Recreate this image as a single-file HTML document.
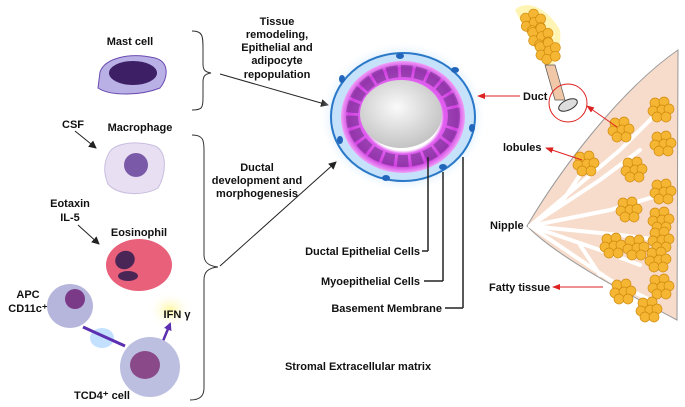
<!DOCTYPE html>
<html><head><meta charset="utf-8"><style>
html,body{margin:0;padding:0;background:#fff}
svg{display:block}
text{font-family:"Liberation Sans",Arial,sans-serif;font-weight:bold;font-size:11px;fill:#111}
</style></head><body>
<svg width="685" height="407" viewBox="0 0 685 407" xmlns="http://www.w3.org/2000/svg">
<defs>
<radialGradient id="glow" cx="50%" cy="50%" r="50%">
<stop offset="75%" stop-color="#9fd0ff" stop-opacity="0.7"/>
<stop offset="100%" stop-color="#ffffff" stop-opacity="0"/>
</radialGradient>
<radialGradient id="pink" cx="50%" cy="50%" r="50%">
<stop offset="60%" stop-color="#ffffff"/>
<stop offset="66%" stop-color="#e060f0"/>
<stop offset="88%" stop-color="#d040e0"/>
<stop offset="100%" stop-color="#f0a0f8"/>
</radialGradient>
<radialGradient id="lumen" cx="45%" cy="40%" r="60%">
<stop offset="0%" stop-color="#fafafa"/><stop offset="100%" stop-color="#c4c4c4"/>
</radialGradient>
<radialGradient id="yglow"><stop offset="0%" stop-color="#fff7a0"/><stop offset="100%" stop-color="#fff" stop-opacity="0"/></radialGradient>
<marker id="ah" markerUnits="userSpaceOnUse" markerWidth="8" markerHeight="8" refX="7" refY="4" orient="auto"><path d="M0,0 L8,4 L0,8 z" fill="#222"/></marker>
<marker id="rh" markerUnits="userSpaceOnUse" markerWidth="8" markerHeight="8" refX="7" refY="4" orient="auto"><path d="M0,1 L8,4 L0,7 z" fill="#d22"/></marker>
<marker id="ph" markerUnits="userSpaceOnUse" markerWidth="8" markerHeight="8" refX="6" refY="4" orient="auto"><path d="M0,0 L8,4 L0,8 z" fill="#5b2fb0"/></marker>
<g id="lob" fill="#f5b733" stroke="#d08a10" stroke-width="0.7">
<circle cx="-5" cy="-5" r="5"/><circle cx="4" cy="-6" r="5"/><circle cx="-7" cy="3" r="5"/><circle cx="2" cy="2" r="5"/><circle cx="9" cy="1" r="5"/><circle cx="-3" cy="9" r="5"/><circle cx="6" cy="9" r="5"/></g>
</defs>

<!-- left cells -->
<text x="130" y="45" text-anchor="middle">Mast cell</text>
<path d="M100,72 C105,58 130,52 155,58 C170,62 168,78 160,88 C140,96 110,96 98,88 Z" fill="#b9b0e6" stroke="#6a4ab0"/>
<ellipse cx="133" cy="73" rx="24" ry="12" fill="#3d1f66"/>
<text x="62" y="128" font-size="13">CSF</text>
<line x1="75" y1="131" x2="96" y2="148" stroke="#222" marker-end="url(#ah)"/>
<text x="140" y="131" text-anchor="middle">Macrophage</text>
<path d="M108,155 C112,143 135,140 155,146 C168,152 166,175 158,188 C145,196 118,196 108,184 C103,172 104,163 108,155 Z" fill="#e8e0f2" stroke="#c8bde0"/>
<circle cx="136" cy="165" r="12" fill="#7a5aa8"/>
<text x="70" y="207" text-anchor="middle">Eotaxin</text>
<text x="70" y="221" text-anchor="middle">IL-5</text>
<line x1="78" y1="225" x2="99" y2="244" stroke="#222" marker-end="url(#ah)"/>
<text x="139" y="236" text-anchor="middle">Eosinophil</text>
<ellipse cx="139" cy="265" rx="33" ry="26" fill="#e8607a"/>
<ellipse cx="125" cy="260" rx="10" ry="9" fill="#4a2656" transform="rotate(-30 125 260)"/>
<ellipse cx="128" cy="276" rx="10" ry="5" fill="#4a2656"/>
<text x="28" y="298" text-anchor="middle">APC</text>
<text x="28" y="312" text-anchor="middle">CD11c⁺</text>
<ellipse cx="70" cy="306" rx="23" ry="22" fill="#b6b6dc"/>
<circle cx="75" cy="299" r="10" fill="#7a3a88"/>
<ellipse cx="102" cy="338" rx="12" ry="10" fill="#aad4ff" opacity="0.7"/>
<line x1="83" y1="327" x2="125" y2="346" stroke="#5b2fb0" stroke-width="3"/>
<ellipse cx="170" cy="310" rx="22" ry="18" fill="url(#yglow)"/>
<text x="177" y="318" text-anchor="middle">IFN γ</text>
<line x1="163" y1="341" x2="170" y2="324" stroke="#5b2fb0" stroke-width="2.5" marker-end="url(#ph)"/>
<circle cx="150" cy="367" r="30" fill="#bcbfe0"/>
<ellipse cx="145" cy="365" rx="15" ry="14" fill="#8a4a8a"/>
<text x="102" y="399" text-anchor="middle">TCD4⁺ cell</text>

<!-- braces -->
<path d="M192,31 C203,31 203,36 203,50 L203,64 C203,70 205,72 211,73 C205,74 203,76 203,82 L203,98 C203,108 202,110 192,110" fill="none" stroke="#333"/>
<path d="M192,135 C203,135 204,140 204,150 L204,255 C204,262 208,266 218,267 C208,268 204,272 204,280 L204,388 C204,396 200,400 190,400" fill="none" stroke="#333"/>
<line x1="220" y1="74" x2="328" y2="105" stroke="#222" marker-end="url(#ah)"/>
<line x1="220" y1="266" x2="336" y2="162" stroke="#222" marker-end="url(#ah)"/>
<g text-anchor="middle">
<text x="277" y="25">Tissue</text><text x="277" y="38">remodeling,</text><text x="277" y="51">Epithelial and</text><text x="277" y="64">adipocyte</text><text x="277" y="78">repopulation</text>
<text x="257" y="171">Ductal</text><text x="257" y="184">development and</text><text x="257" y="197">morphogenesis</text>
</g>

<!-- ring -->
<ellipse cx="403" cy="117" rx="84" ry="76" fill="url(#glow)"/>
<ellipse cx="403" cy="117" rx="72" ry="64" fill="#c6e2fa" stroke="#2a78c8" stroke-width="2"/>
<ellipse cx="403" cy="117" rx="62" ry="56" fill="url(#pink)"/>
<ellipse cx="403" cy="116" rx="51" ry="45" fill="none" stroke="#5a2a7a" stroke-width="12" stroke-dasharray="11 3" opacity="0.5"/>
<ellipse cx="401" cy="114" rx="41" ry="34" fill="url(#lumen)"/>
<g fill="#2266bb">
<ellipse cx="400" cy="56" rx="4" ry="3"/><ellipse cx="342" cy="79" rx="3" ry="4"/><ellipse cx="340" cy="140" rx="3" ry="4"/><ellipse cx="386" cy="178" rx="4" ry="3"/><ellipse cx="443" cy="167" rx="4" ry="3"/><ellipse cx="472" cy="128" rx="3" ry="4"/><ellipse cx="455" cy="70" rx="4" ry="3"/></g>
<line x1="428" y1="157" x2="428" y2="251" stroke="#222" stroke-width="1.5"/><line x1="428" y1="251" x2="422" y2="251" stroke="#222" stroke-width="1.5"/>
<line x1="443" y1="172" x2="443" y2="281" stroke="#222" stroke-width="1.5"/><line x1="443" y1="281" x2="424" y2="281" stroke="#222" stroke-width="1.5"/>
<line x1="463" y1="157" x2="463" y2="308" stroke="#222" stroke-width="1.5"/><line x1="463" y1="308" x2="445" y2="308" stroke="#222" stroke-width="1.5"/>
<text x="420" y="255" text-anchor="end">Ductal Epithelial Cells</text>
<text x="420" y="285" text-anchor="end">Myoepithelial Cells</text>
<text x="442" y="312" text-anchor="end">Basement Membrane</text>
<text x="358" y="370" text-anchor="middle">Stromal Extracellular matrix</text>

<!-- breast -->
<path d="M678,50 L677,320 C640,300 560,260 527,226 C560,170 620,90 678,50 Z" fill="#f7dccb" stroke="#999"/>
<g stroke="#fff" stroke-width="4" fill="none" stroke-linecap="round">
<path d="M530,226 L620,150 L660,110"/><path d="M530,226 L600,180 L640,150"/><path d="M530,226 L610,210 L660,195"/><path d="M530,226 L620,235 L660,240"/><path d="M530,226 L600,250 L640,265"/><path d="M530,226 L610,280 L650,300"/><path d="M560,205 L590,160"/><path d="M580,245 L600,275"/></g>
<g>
<use href="#lob" x="660" y="108"/><use href="#lob" x="620" y="128"/><use href="#lob" x="662" y="142"/><use href="#lob" x="585" y="162"/><use href="#lob" x="633" y="168"/><use href="#lob" x="662" y="190"/><use href="#lob" x="628" y="208"/><use href="#lob" x="660" y="218"/><use href="#lob" x="660" y="238"/><use href="#lob" x="612" y="244"/><use href="#lob" x="635" y="246"/><use href="#lob" x="657" y="258"/><use href="#lob" x="660" y="285"/><use href="#lob" x="622" y="290"/><use href="#lob" x="648" y="308"/>
</g>
<path d="M542,62 C530,40 520,20 515,10 C525,0 545,5 560,30 C562,50 555,65 550,68 Z" fill="#fff1a0" opacity="0.8"/>
<g transform="translate(538,38) rotate(-20)"><use href="#lob" x="0" y="-18"/><use href="#lob" x="2" y="-2"/><use href="#lob" x="4" y="14"/></g>
<path d="M545,65 L555,100 L565,100 L555,65 Z" fill="#f0c8a8" stroke="#555" stroke-width="0.7"/>
<ellipse cx="568" cy="105" rx="10" ry="5" fill="#ddd" stroke="#333" transform="rotate(-25 568 105)"/>
<circle cx="568" cy="103" r="19" fill="none" stroke="#d22"/>
<line x1="617" y1="127" x2="587" y2="106" stroke="#d22" marker-end="url(#rh)"/>
<text x="523" y="100">Duct</text>
<line x1="520" y1="96" x2="478" y2="96" stroke="#d22" marker-end="url(#rh)"/>
<text x="503" y="151">lobules</text>
<line x1="582" y1="160" x2="546" y2="148" stroke="#d22" marker-end="url(#rh)"/>
<text x="490" y="229">Nipple</text>
<text x="489" y="291">Fatty tissue</text>
<line x1="603" y1="287" x2="553" y2="287" stroke="#d22" marker-end="url(#rh)"/>
</svg>
</body></html>
